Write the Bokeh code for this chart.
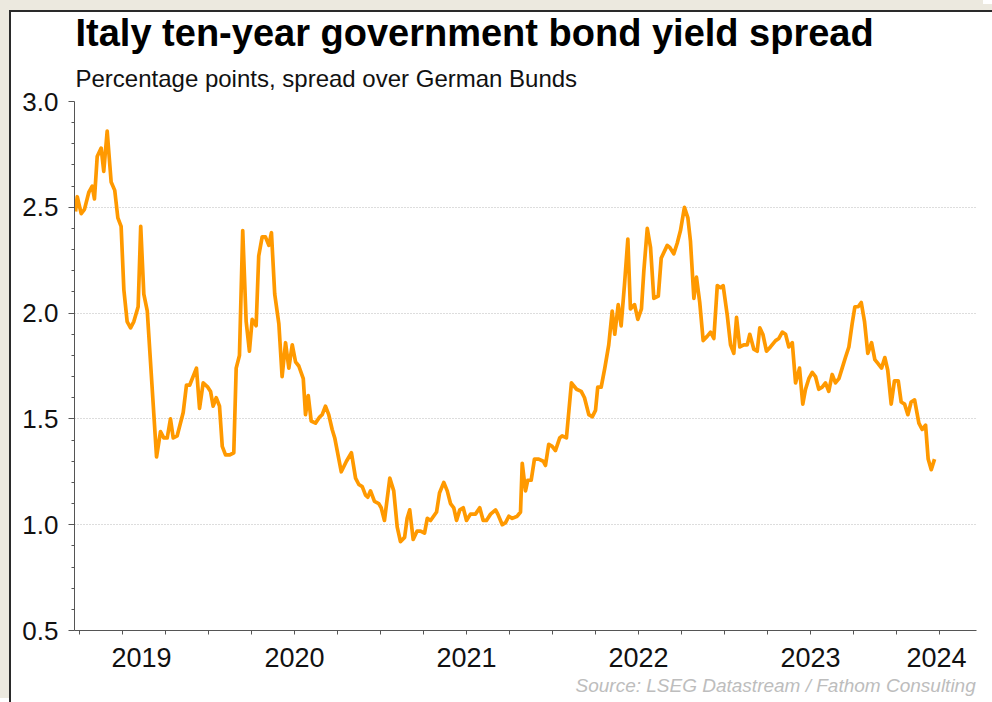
from bokeh.plotting import figure
from bokeh.models import (Range1d, FixedTicker, NumeralTickFormatter,
                          CustomJSTickFormatter, Title)
from bokeh.embed import file_html
from bokeh.resources import INLINE

# ---- data (decimal years, percentage points) ----
dates = [
    2019.227, 2019.237, 2019.260, 2019.279, 2019.304, 2019.324, 2019.337, 2019.353, 2019.376, 2019.391,
    2019.411, 2019.434, 2019.455, 2019.473, 2019.492, 2019.508, 2019.527, 2019.547, 2019.566, 2019.591,
    2019.606, 2019.624, 2019.644, 2019.698, 2019.721, 2019.740, 2019.760, 2019.779, 2019.795, 2019.818,
    2019.853, 2019.872, 2019.891, 2019.930, 2019.948, 2019.969, 2019.996, 2020.012, 2020.027, 2020.045,
    2020.064, 2020.080, 2020.099, 2020.124, 2020.147, 2020.161, 2020.180, 2020.199, 2020.219, 2020.238,
    2020.254, 2020.277, 2020.292, 2020.312, 2020.331, 2020.351, 2020.366, 2020.385, 2020.409, 2020.428,
    2020.448, 2020.467, 2020.487, 2020.506, 2020.525, 2020.551, 2020.564, 2020.580, 2020.597, 2020.622,
    2020.647, 2020.661, 2020.680, 2020.699, 2020.719, 2020.734, 2020.772, 2020.802, 2020.831, 2020.855,
    2020.874, 2020.894, 2020.913, 2020.926, 2020.942, 2020.965, 2020.990, 2021.004, 2021.023, 2021.054,
    2021.077, 2021.097, 2021.116, 2021.140, 2021.155, 2021.170, 2021.190, 2021.213, 2021.233, 2021.256,
    2021.272, 2021.291, 2021.326, 2021.343, 2021.368, 2021.388, 2021.407, 2021.426, 2021.442, 2021.461,
    2021.481, 2021.500, 2021.523, 2021.552, 2021.577, 2021.597, 2021.616, 2021.640, 2021.669, 2021.682,
    2021.708, 2021.727, 2021.746, 2021.766, 2021.795, 2021.814, 2021.824, 2021.843, 2021.856, 2021.876,
    2021.895, 2021.920, 2021.946, 2021.959, 2021.978, 2021.998, 2022.017, 2022.042, 2022.056, 2022.081,
    2022.110, 2022.140, 2022.167, 2022.186, 2022.211, 2022.231, 2022.250, 2022.263, 2022.283, 2022.304,
    2022.327, 2022.347, 2022.362, 2022.382, 2022.399, 2022.419, 2022.438, 2022.453, 2022.477, 2022.496,
    2022.517, 2022.531, 2022.551, 2022.570, 2022.589, 2022.615, 2022.632, 2022.667, 2022.682, 2022.705,
    2022.725, 2022.744, 2022.767, 2022.787, 2022.802, 2022.822, 2022.837, 2022.856, 2022.876, 2022.899,
    2022.919, 2022.938, 2022.958, 2022.977, 2022.992, 2023.016, 2023.035, 2023.054, 2023.070, 2023.089,
    2023.112, 2023.132, 2023.147, 2023.170, 2023.190, 2023.205, 2023.223, 2023.244, 2023.267, 2023.297,
    2023.316, 2023.336, 2023.355, 2023.374, 2023.394, 2023.413, 2023.436, 2023.455, 2023.471, 2023.490,
    2023.510, 2023.529, 2023.548, 2023.568, 2023.587, 2023.606, 2023.626, 2023.645, 2023.665, 2023.684,
    2023.703, 2023.723, 2023.742, 2023.758, 2023.777, 2023.795, 2023.814, 2023.833, 2023.855, 2023.874,
    2023.894, 2023.913, 2023.932, 2023.949, 2023.969, 2023.988, 2024.010, 2024.027, 2024.047, 2024.066,
    2024.085, 2024.105, 2024.130, 2024.149, 2024.169, 2024.184, 2024.202, 2024.221,
]
spread = [
    2.48, 2.55, 2.47, 2.49, 2.57, 2.60, 2.54, 2.74, 2.78, 2.67,
    2.86, 2.62, 2.58, 2.45, 2.41, 2.11, 1.96, 1.93, 1.96, 2.03,
    2.41, 2.09, 2.01, 1.32, 1.44, 1.41, 1.41, 1.50, 1.41, 1.42,
    1.53, 1.66, 1.66, 1.74, 1.55, 1.67, 1.65, 1.63, 1.56, 1.60,
    1.56, 1.37, 1.33, 1.33, 1.34, 1.74, 1.80, 2.39, 1.96, 1.82,
    1.97, 1.94, 2.27, 2.36, 2.36, 2.32, 2.38, 2.09, 1.95, 1.70,
    1.86, 1.74, 1.85, 1.77, 1.75, 1.69, 1.52, 1.61, 1.49, 1.48,
    1.51, 1.52, 1.56, 1.52, 1.45, 1.41, 1.25, 1.30, 1.34, 1.22,
    1.19, 1.18, 1.14, 1.13, 1.16, 1.11, 1.10, 1.08, 1.02, 1.22,
    1.16, 0.99, 0.92, 0.94, 1.03, 1.07, 0.93, 0.97, 0.97, 0.96,
    1.03, 1.02, 1.06, 1.15, 1.20, 1.16, 1.10, 1.08, 1.02, 1.07,
    1.08, 1.02, 1.05, 1.05, 1.08, 1.02, 1.02, 1.05, 1.07, 1.05,
    1.00, 1.01, 1.04, 1.03, 1.04, 1.06, 1.29, 1.16, 1.21, 1.21,
    1.31, 1.31, 1.30, 1.28, 1.38, 1.37, 1.35, 1.41, 1.42, 1.41,
    1.67, 1.64, 1.63, 1.60, 1.52, 1.51, 1.54, 1.65, 1.65, 1.74,
    1.85, 2.01, 1.90, 2.04, 1.94, 2.14, 2.35, 2.02, 2.04, 1.97,
    2.02, 2.20, 2.40, 2.31, 2.07, 2.08, 2.26, 2.32, 2.31, 2.28,
    2.33, 2.39, 2.50, 2.45, 2.34, 2.07, 2.17, 2.05, 1.87, 1.89,
    1.91, 1.88, 2.13, 2.12, 2.13, 1.99, 1.85, 1.81, 1.98, 1.84,
    1.85, 1.85, 1.90, 1.83, 1.82, 1.93, 1.90, 1.82, 1.84, 1.87,
    1.88, 1.91, 1.90, 1.84, 1.86, 1.67, 1.74, 1.57, 1.64, 1.69,
    1.72, 1.70, 1.64, 1.65, 1.67, 1.63, 1.71, 1.67, 1.69, 1.74,
    1.79, 1.84, 1.95, 2.03, 2.03, 2.05, 1.96, 1.81, 1.86, 1.78,
    1.76, 1.74, 1.79, 1.73, 1.57, 1.68, 1.68, 1.58, 1.57, 1.52,
    1.58, 1.59, 1.48, 1.45, 1.47, 1.31, 1.26, 1.31,
]

year_labels = ["2019", "2020", "2021", "2022", "2023", "2024"]
y_ticks = [0.5, 1.0, 1.5, 2.0, 2.5, 3.0]

title_text = "Italy ten-year government bond yield spread"
subtitle_text = "Percentage points, spread over German Bunds"
source_text = "Source: LSEG Datastream / Fathom Consulting"

# ---- derived axis settings ----
x_start, x_end = 2019.221, 2024.465
first_year = int(year_labels[0])
quarters = [first_year + q / 4 for q in range(0, 4 * (len(year_labels) + 1))]
quarters = [q for q in quarters if x_start <= q <= x_end]
label_centres = []
for lab in year_labels:
    yr = int(lab)
    lo, hi = max(yr, x_start), min(yr + 1, x_end)
    label_centres.append((lo + hi) / 2)
y_minor = [round(0.5 + 0.1 * i, 1) for i in range(26) if round(0.5 + 0.1 * i, 1) not in y_ticks]

FONT = "Liberation Sans"
ORANGE = "#FF9900"
AXIS = "#555555"
BEIGE = "#ECE9DF"
FRAME = "#2a2a2a"

p = figure(width=983, height=698, output_backend="svg", toolbar_location=None,
           title=None, x_range=Range1d(x_start, x_end), y_range=Range1d(0.5, 3.0),
           min_border_left=65, min_border_right=16, min_border_top=97, min_border_bottom=72,
           background_fill_color="white", border_fill_color=None)
p.outline_line_color = None
p.styles = {
    "margin-left": "9px", "margin-top": "4px", "background-color": "white",
    "box-shadow": (f"inset 0 6px 0 0 {BEIGE}, inset 0 8px 0 0 {FRAME}, "
                   f"inset 2px 0 0 0 {FRAME}, -9px -4px 0 0 {BEIGE}"),
}

# titles (added inner-first)
p.add_layout(Title(text=subtitle_text, text_font=FONT, text_font_size="24px",
                   text_font_style="normal", text_color="#111111", align="left",
                   offset=1, standoff=19), "above")
p.add_layout(Title(text=title_text, text_font=FONT, text_font_size="38px",
                   text_font_style="bold", text_color="#000000", align="left",
                   offset=1, standoff=0), "above")

# line
p.line(dates, spread, line_color=ORANGE, line_width=3.7, line_join="round")

# y axis
ya = p.yaxis[0]
ya.ticker = FixedTicker(ticks=y_ticks, minor_ticks=y_minor)
ya.formatter = NumeralTickFormatter(format="0.0")
ya.major_label_text_font = FONT
ya.major_label_text_font_size = "26px"
ya.major_label_text_color = "#111111"
ya.major_label_standoff = 10
ya.axis_line_color = AXIS
ya.major_tick_line_color = AXIS
ya.minor_tick_line_color = AXIS
ya.major_tick_out = 6
ya.major_tick_in = 0
ya.minor_tick_out = 3
ya.minor_tick_in = 0

p.ygrid.ticker = FixedTicker(ticks=y_ticks)
p.ygrid.grid_line_color = "#BBBBBB"
p.ygrid.grid_line_dash = "1 2"
p.ygrid.grid_line_width = 1
p.xgrid.visible = False

# x axis: year labels centred on the visible part of each year, quarterly tick marks
xa = p.xaxis[0]
xa.ticker = FixedTicker(ticks=label_centres, minor_ticks=quarters)
xa.formatter = CustomJSTickFormatter(args=dict(labels=year_labels, first=first_year),
                                     code="return labels[Math.floor(tick) - first];")
xa.axis_line_color = AXIS
xa.major_tick_line_color = None
xa.major_tick_out = 0
xa.major_tick_in = 0
xa.minor_tick_line_color = AXIS
xa.minor_tick_out = 4
xa.minor_tick_in = 0
xa.major_label_standoff = 13
xa.major_label_text_font = FONT
xa.major_label_text_font_size = "27px"
xa.major_label_text_color = "#111111"

# source note
p.add_layout(Title(text=source_text, text_font=FONT, text_font_size="19px",
                   text_font_style="italic", text_color="#BDBDBD", align="left",
                   offset=501, standoff=6), "below")

open("out.html", "w").write(file_html(p, INLINE))
